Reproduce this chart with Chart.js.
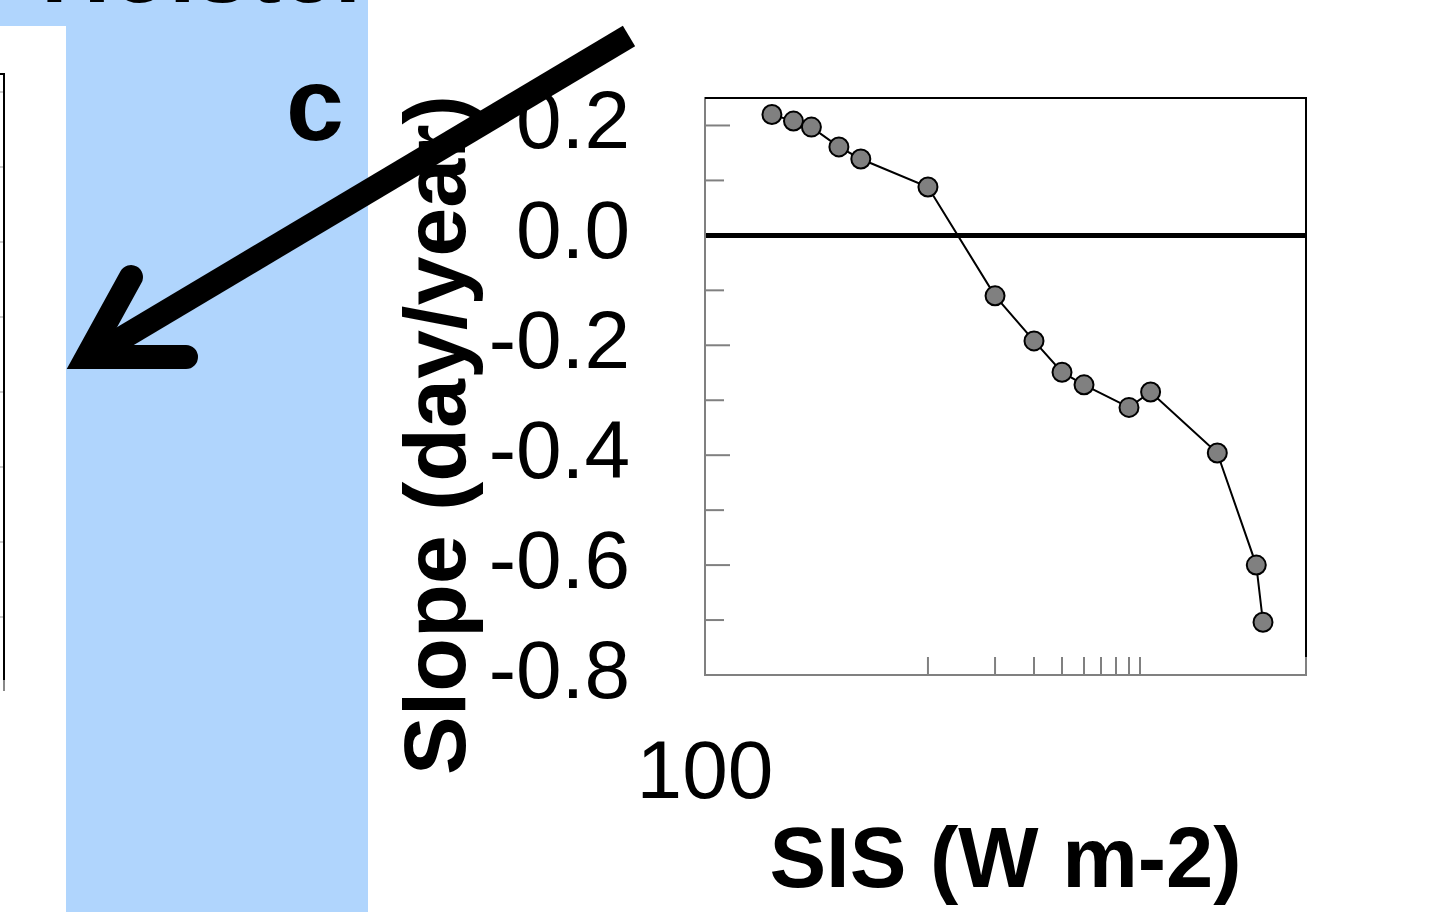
<!DOCTYPE html>
<html>
<head>
<meta charset="utf-8">
<script src="https://cdn.jsdelivr.net/npm/chart.js@4.4.1/dist/chart.umd.min.js"></script>
<style>
html,body{margin:0;padding:0;background:#fff;overflow:hidden;}
#wrap{position:relative;width:1444px;height:912px;}
#wrap svg,#wrap canvas{position:absolute;left:0;top:0;}
#fg{pointer-events:none;}
</style>
</head>
<body>
<div id="wrap">
<svg id="bg" width="1444" height="912" xmlns="http://www.w3.org/2000/svg">
  <rect x="0" y="0" width="368" height="912" fill="#b0d5fd"/>
  <rect x="0" y="26" width="66" height="886" fill="#ffffff"/>
  <text x="41" y="2" font-family="Liberation Sans, Arial, sans-serif" font-weight="bold" font-size="96" fill="#000">Holster</text>
  <g stroke="#999" stroke-width="1">
    <line x1="0" y1="92" x2="4" y2="92"/><line x1="0" y1="167" x2="4" y2="167"/>
    <line x1="0" y1="242" x2="4" y2="242"/><line x1="0" y1="317" x2="4" y2="317"/>
    <line x1="0" y1="392" x2="4" y2="392"/><line x1="0" y1="467" x2="4" y2="467"/>
    <line x1="0" y1="542" x2="4" y2="542"/><line x1="0" y1="617" x2="4" y2="617"/>
  </g>
  <line x1="0" y1="74" x2="5" y2="74" stroke="#000" stroke-width="2"/>
  <line x1="4" y1="73" x2="4" y2="680" stroke="#000" stroke-width="2"/>
  <line x1="4" y1="680" x2="4" y2="691" stroke="#888" stroke-width="2"/>
</svg>
<canvas id="c" width="1444" height="912"></canvas>
<svg id="fg" width="1444" height="912" xmlns="http://www.w3.org/2000/svg">
  <text x="286" y="140" font-family="Liberation Sans, Arial, sans-serif" font-weight="bold" font-size="104" fill="#000">c</text>
  <line x1="629" y1="36" x2="92" y2="356" stroke="#000" stroke-width="24" stroke-linecap="butt"/>
  <polyline points="131,277 87,357 186,357" fill="none" stroke="#000" stroke-width="24" stroke-linecap="round" stroke-linejoin="miter" stroke-miterlimit="6"/>
</svg>
</div>
<script>
// ---- data ----
const sisValues   = [167, 197, 226, 279, 330, 552, 923, 1244, 1542, 1825, 2576, 3040, 5068, 6832, 7193];
const slopeValues = [0.22, 0.208, 0.197, 0.161, 0.139, 0.088, -0.11, -0.192, -0.249, -0.272, -0.313, -0.285, -0.396, -0.60, -0.704];
const xRange = [100, 10000];
const xTickLabelValues = [100];
const xTickLabels = ['100'];
const xTickMarks = [552, 923, 1244, 1542, 1825, 2079, 2332, 2576, 2803];
const yRange = [-0.8, 0.25];
const yTickLabelValues = [-0.8, -0.6, -0.4, -0.2, 0, 0.2];
const yTickMarks = [0.2, 0.1, -0.1, -0.2, -0.3, -0.4, -0.5, -0.6, -0.7];
const xTitle = 'SIS (W m-2)';
const yTitle = 'Slope (day/year)';

const FAMILY = '"Liberation Sans", Arial, sans-serif';

const framePlugin = {
  id: 'frameAndMarks',
  beforeDatasetsDraw(chart) {
    const {ctx, chartArea: a, scales: {x, y}} = chart;
    ctx.save();
    ctx.strokeStyle = '#808080';
    ctx.lineWidth = 2;
    yTickMarks.forEach(v => {
      const py = y.getPixelForValue(v);
      const even = Math.round(Math.abs(v) * 10) % 2 === 0;
      ctx.beginPath();
      ctx.moveTo(a.left, py);
      ctx.lineTo(a.left + (even ? 25 : 19), py);
      ctx.stroke();
    });
    xTickMarks.concat([xRange[1]]).forEach(v => {
      const px = x.getPixelForValue(v);
      ctx.beginPath();
      ctx.moveTo(px, a.bottom);
      ctx.lineTo(px, a.bottom - 18);
      ctx.stroke();
    });
    ctx.strokeStyle = '#000';
    ctx.lineWidth = 2;
    ctx.beginPath();
    ctx.moveTo(a.left, a.top);
    ctx.lineTo(a.right, a.top);
    ctx.lineTo(a.right, a.bottom - 18);
    ctx.stroke();
    ctx.restore();
  },
  afterDraw(chart) {
    const {ctx, chartArea: a, scales: {y}} = chart;
    ctx.save();
    ctx.translate(y.left + 85, a.bottom + 100);
    ctx.rotate(-Math.PI / 2);
    ctx.font = 'bold 88px ' + FAMILY;
    ctx.fillStyle = '#000';
    ctx.textAlign = 'left';
    ctx.textBaseline = 'alphabetic';
    ctx.fillText(yTitle, 0, 0);
    ctx.restore();
  }
};

new Chart(document.getElementById('c'), {
  type: 'line',
  data: {
    datasets: [{
      data: sisValues.map((v, i) => ({x: v, y: slopeValues[i]})),
      borderColor: '#000',
      borderWidth: 2,
      pointRadius: 9.5,
      pointBackgroundColor: '#808080',
      pointBorderColor: '#000',
      pointBorderWidth: 2,
      tension: 0,
      clip: false
    }]
  },
  options: {
    responsive: false,
    animation: false,
    devicePixelRatio: 1,
    layout: {padding: {left: 380, top: 98, right: 138, bottom: 0}},
    plugins: {legend: {display: false}, tooltip: {enabled: false}},
    scales: {
      x: {
        type: 'logarithmic',
        min: xRange[0], max: xRange[1],
        afterBuildTicks: s => { s.ticks = xTickLabelValues.map(v => ({value: v})); },
        afterFit: s => { s.height = 237; s.paddingLeft = 0; s.paddingRight = 0; },
        ticks: {
          autoSkip: false, maxRotation: 0, minRotation: 0, padding: 59, color: '#000',
          font: {family: FAMILY, size: 82, lineHeight: 1},
          callback: (v, i) => xTickLabels[i]
        },
        grid: {display: false, drawTicks: false},
        border: {display: true, color: '#808080', width: 2},
        title: {
          display: true, text: xTitle, color: '#000',
          font: {family: FAMILY, size: 85, weight: 'bold', lineHeight: 1},
          padding: {top: 0, bottom: 6}
        }
      },
      y: {
        type: 'linear',
        min: yRange[0], max: yRange[1],
        afterBuildTicks: s => { s.ticks = yTickLabelValues.map(v => ({value: v})); },
        afterFit: s => { s.width = 325; s.paddingTop = 0; s.paddingBottom = 0; },
        ticks: {
          padding: 75, color: '#000',
          font: {family: FAMILY, size: 82, lineHeight: 1.2},
          callback: v => Number(v).toFixed(1)
        },
        grid: {
          drawTicks: false,
          color: c => (c.tick && c.tick.value === 0) ? '#000' : 'rgba(0,0,0,0)',
          lineWidth: c => (c.tick && c.tick.value === 0) ? 5 : 1
        },
        border: {display: true, color: '#808080', width: 2}
      }
    }
  },
  plugins: [framePlugin]
});
</script>
</body>
</html>
